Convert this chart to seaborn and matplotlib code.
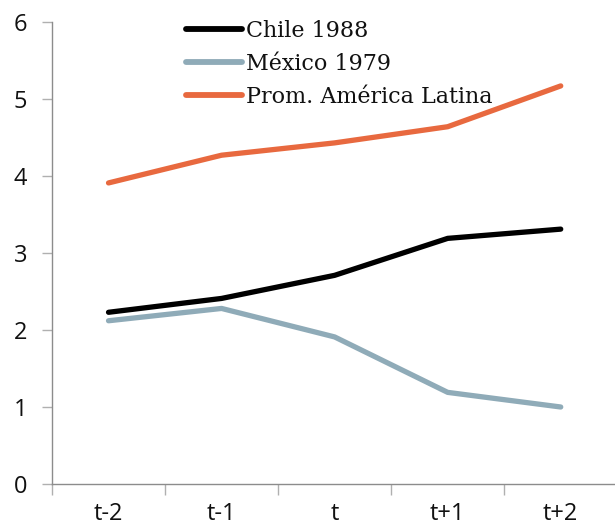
import matplotlib
matplotlib.use("Agg")
import matplotlib.pyplot as plt
import seaborn as sns
import pandas as pd
from matplotlib.ticker import FixedLocator

periods = ["t-2", "t-1", "t", "t+1", "t+2"]
chile_1988 = [2.23, 2.41, 2.71, 3.19, 3.31]
mexico_1979 = [2.12, 2.28, 1.91, 1.19, 1.00]
prom_america_latina = [3.91, 4.27, 4.43, 4.64, 5.17]
series_names = ["Chile 1988", "México 1979", "Prom. América Latina"]
series_colors = ["#000000", "#8fabb8", "#e8693f"]

frames = []
for name, vals in zip(series_names, [chile_1988, mexico_1979, prom_america_latina]):
    frames.append(pd.DataFrame({"periodo": periods, "valor": vals, "serie": name}))
df = pd.concat(frames, ignore_index=True)

sns.set_theme(style="white")
plt.rcParams["font.family"] = ["Open Sans", "DejaVu Sans"]

fig = plt.figure(figsize=(6.15, 5.27), dpi=100)
ax = fig.add_axes([52 / 615, 43 / 527, 563 / 615, 462 / 527])

sns.lineplot(data=df, x="periodo", y="valor", hue="serie", hue_order=series_names,
             palette=series_colors, linewidth=3.8, ax=ax, sort=False)

ax.set_xlim(-0.5, 4.48)
ax.set_ylim(0, 6)
ax.set_yticks(range(0, 7))
ax.set_xticks(range(len(periods)))
ax.set_xticklabels(periods)
ax.xaxis.set_minor_locator(FixedLocator([-0.5, 0.5, 1.5, 2.5, 3.5]))
ax.set_xlabel("")
ax.set_ylabel("")

for side in ["top", "right"]:
    ax.spines[side].set_visible(False)
for side in ["left", "bottom"]:
    ax.spines[side].set_color("#8c8c8c")
    ax.spines[side].set_linewidth(1.0)

ax.tick_params(axis="y", which="major", direction="out", length=7, width=1,
               color="#b0b0b0", labelsize=17, pad=11, left=True)
ax.tick_params(axis="x", which="major", length=0, labelsize=17, pad=13, bottom=True)
ax.tick_params(axis="x", which="minor", direction="out", length=8, width=1,
               color="#b0b0b0", bottom=True)
for lab in ax.get_xticklabels() + ax.get_yticklabels():
    lab.set_color("#111111")

leg = ax.legend(loc="upper left", bbox_to_anchor=(186 / 615, 1 - 20 / 527),
                bbox_transform=fig.transFigure, frameon=False,
                prop={"family": ["DejaVu Serif"], "size": 16},
                handlelength=2.5, handletextpad=0.18, labelspacing=0.5,
                borderaxespad=0, borderpad=0)
for line in leg.get_lines():
    line.set_linewidth(4.2)
for txt in leg.get_texts():
    txt.set_color("#111111")

fig.savefig("out.png", dpi=100)
